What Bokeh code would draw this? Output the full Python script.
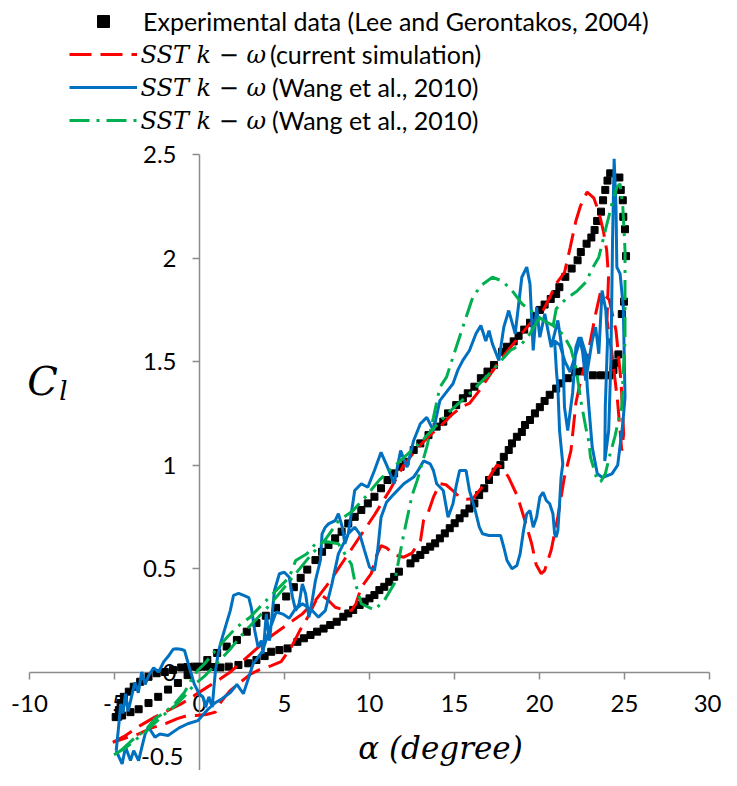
from bokeh.plotting import figure
from bokeh.models import Range1d, FixedTicker, Legend, LegendItem, Label
from bokeh.embed import file_html
from bokeh.resources import INLINE

# ---------------- data ----------------
x_ticks = [-10, -5, 0, 5, 10, 15, 20, 25, 30]
x_tick_labels = ["-10", "-5", "0", "5", "10", "15", "20", "25", "30"]
y_ticks = [-0.5, 0, 0.5, 1, 1.5, 2, 2.5]
y_tick_labels = ["-0.5", "0", "0.5", "1", "1.5", "2", "2.5"]

exp_alpha = [-4.93, -4.55, -4.06, -3.58, -3.0, -2.43, -1.85, -1.27, -0.7, -0.12,
             0.46, 1.04, 1.6, 2.2, 2.78, 3.35, 3.9, 4.5, 5.1, 5.55,
             5.95, 6.34, 6.82, 7.21, 7.59, 7.98, 8.36, 8.75, 9.13, 9.52,
             9.9, 10.29, 10.68, 11.06, 11.45, 11.83, 12.12, 12.6, 12.99, 13.47,
             13.95, 14.34, 14.62, 15.1, 15.49, 15.78, 16.17, 16.55, 16.94, 17.32,
             17.8, 18.09, 18.48, 18.77, 19.1, 19.44, 19.73, 20.02, 20.3, 20.66,
             20.98, 21.17, 21.52, 21.89, 22.24, 22.43, 22.77, 23.05, 23.24, 23.39,
             23.62, 23.74, 23.87, 24.0, 24.16,
             24.7, 24.78, 24.9, 24.93, 25.03, 25.09, 24.97, 24.84, 24.64, 24.5,
             24.35, 24.12, 23.62, 23.14, 22.52, 22.1, 21.66, 21.27, 20.98, 20.6,
             20.3, 20.02, 19.73, 19.44, 19.15, 18.96, 18.67, 18.38, 18.19, 17.9,
             17.7, 17.42, 17.03, 16.75, 16.45, 16.17, 15.88, 15.59, 15.3, 15.01,
             14.72, 14.43, 14.14, 13.86, 13.57, 13.28, 12.99, 12.7, 12.41, 11.73,
             11.45, 11.16, 10.87, 10.58, 10.29, 10.0, 9.71, 9.42, 9.04, 8.75,
             8.46, 8.07, 7.69, 7.3, 6.92, 6.53, 6.14, 5.76, 5.18, 4.7,
             4.22, 3.83, 3.35, 2.87, 2.29, 1.72, 1.23, 0.85, 0.46, 0.08,
             -0.3, -0.7, -1.08, -1.56, -2.04, -2.52, -3.0, -3.49, -3.87, -4.16,
             -4.45, -4.64, -4.74, -4.78]
exp_cl = [-0.218, -0.21, -0.194, -0.18, -0.15, -0.12, -0.085, -0.053, -0.015, 0.024,
          0.058, 0.092, 0.123, 0.155, 0.195, 0.237, 0.272, 0.31, 0.365, 0.41,
          0.455, 0.495, 0.541, 0.581, 0.614, 0.646, 0.678, 0.718, 0.75, 0.783,
          0.815, 0.847, 0.888, 0.928, 0.96, 0.992, 1.016, 1.073, 1.105, 1.145,
          1.186, 1.21, 1.25, 1.29, 1.323, 1.347, 1.379, 1.42, 1.452, 1.484,
          1.548, 1.572, 1.598, 1.625, 1.655, 1.688, 1.72, 1.75, 1.776, 1.803,
          1.827, 1.86, 1.91, 1.95, 1.99, 2.03, 2.07, 2.1, 2.136, 2.18,
          2.225, 2.28, 2.33, 2.375, 2.41,
          2.39, 2.33, 2.28, 2.2, 2.14, 2.01, 1.79, 1.73, 1.535, 1.495,
          1.46, 1.434, 1.434, 1.434, 1.453, 1.449, 1.42, 1.395, 1.37, 1.34,
          1.31, 1.28, 1.25, 1.218, 1.194, 1.16, 1.137, 1.105, 1.073, 1.04,
          1.0, 0.968, 0.928, 0.888, 0.855, 0.815, 0.79, 0.767, 0.743, 0.719,
          0.695, 0.67, 0.646, 0.622, 0.606, 0.59, 0.566, 0.55, 0.525, 0.485,
          0.46, 0.436, 0.412, 0.396, 0.372, 0.356, 0.34, 0.324, 0.3, 0.283,
          0.267, 0.243, 0.227, 0.21, 0.195, 0.179, 0.163, 0.146, 0.114, 0.106,
          0.098, 0.077, 0.058, 0.042, 0.034, 0.026, 0.022, 0.024, 0.026, 0.026,
          0.026, 0.024, 0.022, 0.01, 0.0, -0.006, -0.023, -0.047, -0.071, -0.095,
          -0.12, -0.15, -0.184, -0.216]

red_alpha = [-5.1, -4.35, -3.49, -2.63, -1.85, -1.08, -0.31, 0.46, 1.23, 1.81,
             2.58, 3.35, 4.12, 5.09, 6.05, 6.82, 7.6, 8.5, 9.4, 10.3,
             11.2, 12.02, 12.8, 13.5, 14.2, 14.8, 15.4, 15.9, 16.46, 17.2,
             18.0, 18.7, 19.4, 20.1, 20.6, 21.0, 21.47, 21.8, 22.14, 22.4,
             22.8, 23.2, 23.5, 23.76, 23.95, 24.06, 23.97, 24.26, 24.59, 24.84,
             24.95, 24.8, 24.5, 24.1, 23.6, 23.3, 22.9, 22.4, 22.14, 21.85,
             21.46, 21.08, 20.69, 20.3, 20.1, 19.8, 19.54, 19.15, 18.7, 18.19,
             17.8, 17.5, 17.23, 16.8, 16.46, 16.07, 15.7, 15.3, 14.9, 14.5,
             14.14, 13.76, 13.45, 13.18, 13.0, 12.5, 12.02, 11.5, 11.0, 10.68,
             10.4, 10.1, 9.52, 9.2, 8.94, 8.5, 7.98, 7.59, 7.2, 6.82,
             6.4, 5.9, 5.4, 4.8, 4.2, 3.5, 3.0, 2.4, 1.8, 1.3,
             0.94, 0.4, -0.2, -0.69, -1.3, -2.0, -2.8, -3.6, -4.4, -5.1]
red_cl = [-0.34, -0.307, -0.259, -0.218, -0.186, -0.154, -0.114, -0.073, -0.033, 0.0,
          0.056, 0.112, 0.168, 0.225, 0.281, 0.346, 0.43, 0.54, 0.65, 0.76,
          0.88, 1.0, 1.08, 1.14, 1.19, 1.24, 1.28, 1.3, 1.36, 1.45,
          1.54, 1.61, 1.68, 1.73, 1.81, 1.88, 1.93, 2.05, 2.18, 2.25,
          2.32, 2.29, 2.22, 2.13, 2.04, 1.91, 1.70, 1.54, 1.31, 1.07,
          1.15, 1.4, 1.65, 1.8, 1.84, 1.73, 1.56, 1.4, 1.3, 1.07,
          0.94, 0.75, 0.59, 0.49, 0.475, 0.52, 0.62, 0.73, 0.85, 0.94,
          0.99, 1.0, 0.966, 0.91, 0.877, 0.837, 0.835, 0.845, 0.877, 0.905,
          0.91, 0.845, 0.77, 0.732, 0.636, 0.575, 0.555, 0.565, 0.6, 0.611,
          0.56, 0.475, 0.41, 0.33, 0.297, 0.3, 0.313, 0.346, 0.37, 0.34,
          0.27, 0.2, 0.12, 0.05, 0.03, 0.01, -0.01, -0.05, -0.09, -0.14,
          -0.194, -0.205, -0.21, -0.21, -0.225, -0.25, -0.27, -0.3, -0.32, -0.34]

blue_alpha = [-4.9, -4.74, -4.64, -4.5, -4.35, -4.2, -4.0, -3.8, -3.6, -3.4,
              -3.2, -3.0, -2.7, -2.4, -2.1, -1.8, -1.55, -1.37, -1.1, -0.88,
              -0.6, -0.31, -0.02, 0.2, 0.36, 0.55, 0.75, 0.85, 0.94, 1.1,
              1.23, 1.52, 1.81, 2.0, 2.3, 2.6, 2.9, 3.05, 3.25, 3.45,
              3.64, 3.74, 3.93, 4.12, 4.41, 4.7, 4.99, 5.28, 5.47, 5.66,
              5.86, 6.05, 6.24, 6.44, 6.63, 6.82, 7.11, 7.21, 7.4, 7.59,
              7.98, 8.17, 8.4, 8.55, 8.75, 9.13, 9.52, 9.9, 10.29, 10.68,
              11.06, 11.45, 11.83, 12.21, 12.6, 12.99, 13.37, 13.76, 14.14, 14.5,
              14.91, 15.2, 15.49, 15.88, 16.26, 16.55, 16.84, 17.03, 17.23, 17.61,
              17.9, 18.19, 18.57, 18.96, 19.25, 19.44, 19.63, 19.83, 20.02, 20.31,
              20.69, 21.08, 21.37, 21.47, 21.66, 21.95, 22.14, 22.33, 22.53, 22.72,
              22.9, 23.1, 23.3, 23.49, 23.68, 23.9, 24.0, 23.87, 23.84, 24.07,
              24.2, 24.3, 24.39, 24.5, 24.55, 24.74, 24.93, 25.03,
              24.9, 24.6, 24.26, 23.7, 23.4, 23.1, 22.81, 22.72, 22.43, 22.14,
              21.8, 21.5, 21.2, 20.89, 21.0, 21.08, 21.18, 21.37, 21.27, 21.18,
              21.08, 20.98, 20.89, 20.79, 20.6, 20.4, 20.21, 20.02, 19.83, 19.63,
              19.44, 19.25, 19.06, 18.86, 18.67, 18.38, 18.09, 17.9, 17.71, 17.42,
              17.03, 16.65, 16.46, 16.17, 15.88, 15.68, 15.3, 15.1, 14.91, 14.62,
              14.34, 13.95, 13.76, 13.57, 13.18, 12.9, 12.6, 12.02, 11.45, 11.0,
              10.68, 10.48, 10.29, 10.0, 9.71, 9.42, 9.13, 8.75, 8.17, 7.79,
              7.4, 7.0, 6.6, 6.05, 5.6, 5.28, 4.9, 4.51, 4.1, 3.7,
              3.16, 2.8, 2.58, 2.2, 1.8, 1.3, 0.9, 0.5, -0.1, -0.69,
              -1.2, -1.85, -2.33, -2.62, -3.0, -3.2, -3.39, -3.58, -3.87, -4.06,
              -4.35, -4.55, -4.74, -4.9]
blue_cl = [-0.38, -0.25, -0.154, -0.2, -0.105, -0.19, -0.12, -0.05, -0.1, 0.0,
           -0.06, -0.02, 0.02, 0.0, 0.05, 0.08, 0.11, 0.112, 0.11, 0.104,
           0.023, -0.057, -0.105, -0.12, -0.17, -0.12, -0.17, -0.073, 0.007, 0.09,
           0.136, 0.217, 0.297, 0.37, 0.38, 0.37, 0.36, 0.31, 0.2, 0.12,
           0.152, 0.088, 0.281, 0.152, 0.394, 0.475, 0.482, 0.458, 0.362, 0.297,
           0.33, 0.426, 0.378, 0.265, 0.346, 0.442, 0.539, 0.668, 0.70, 0.716,
           0.732, 0.765, 0.7, 0.62, 0.668, 0.877, 0.91, 0.893, 0.974, 1.062,
           0.99, 0.91, 1.07, 0.99, 1.119, 1.2, 1.231, 1.167, 1.312, 1.35,
           1.393, 1.46, 1.506, 1.554, 1.635, 1.675, 1.6, 1.65, 1.586, 1.506,
           1.667, 1.747, 1.635, 1.908, 1.957, 1.876, 1.554, 1.763, 1.618, 1.731,
           1.57, 1.699, 1.538, 1.28, 1.167, 1.35, 1.57, 1.618, 1.55, 1.409,
           1.5, 1.602, 1.667, 1.538, 1.844, 1.75, 1.6, 1.28, 1.02, 1.167,
           1.5, 2.1, 2.48, 2.25, 1.957, 1.925, 1.763, 1.328,
           1.2, 1.0, 0.958, 0.94, 0.958, 1.087, 1.376, 1.538, 1.618, 1.538,
           1.45, 1.5, 1.58, 1.6, 1.45, 1.376, 1.167, 1.006, 0.942, 0.813,
           0.684, 0.652, 0.668, 0.765, 0.813, 0.829, 0.869, 0.845, 0.748, 0.70,
           0.78, 0.765, 0.684, 0.571, 0.515, 0.499, 0.539, 0.603, 0.66, 0.66,
           0.66, 0.668, 0.70, 0.797, 0.877, 0.974, 0.974, 0.9, 0.813, 0.748,
           0.877, 0.91, 0.974, 1.006, 1.02, 0.98, 0.942, 0.91, 0.861, 0.82,
           0.748, 0.587, 0.49, 0.507, 0.587, 0.668, 0.7, 0.668, 0.571, 0.426,
           0.297, 0.265, 0.3, 0.33, 0.3, 0.26, 0.28, 0.29, 0.2, 0.1,
           0.04, -0.05, -0.105, -0.06, -0.1, -0.13, -0.15, -0.18, -0.235, -0.25,
           -0.27, -0.307, -0.3, -0.315, -0.267, -0.3, -0.363, -0.428, -0.38, -0.428,
           -0.363, -0.444, -0.41, -0.38]

green_alpha = [-5.03, -4.4, -3.8, -3.2, -2.6, -2.0, -1.4, -0.8, -0.3, 0.3,
               1.0, 1.8, 2.6, 3.4, 4.2, 5.0, 5.8, 6.6, 7.4, 8.17,
               9.03, 9.8, 10.6, 11.4, 12.2, 13.0, 13.8, 14.72, 15.88, 17.03,
               18.28, 18.96, 19.44, 19.9, 20.3, 20.79, 20.98, 21.56, 22.2, 22.72,
               23.1, 23.49, 23.87, 24.07, 24.26, 24.55, 24.74, 24.9, 25.03, 25.03,
               25.03, 24.93, 24.84, 24.64, 24.45, 24.16, 23.87, 23.6, 23.4, 23.0,
               22.91, 22.72, 22.43, 22.14, 21.85, 21.43, 20.79, 20.21, 19.6, 18.96,
               18.38, 17.8, 17.23, 16.55, 16.07, 15.49, 15.1, 14.53, 14.14, 13.76,
               13.37, 12.8, 12.5, 12.02, 11.45, 10.87, 10.29, 9.52, 9.13, 8.94,
               8.17, 7.5, 6.82, 6.3, 5.66, 5.28, 4.51, 4.12, 2.97, 2.2,
               1.62, 0.9, 0.3, -0.12, -0.5, -0.88, -1.46, -2.04, -2.62, -3.2,
               -3.97, -4.5, -5.03]
green_cl = [-0.40, -0.37, -0.33, -0.29, -0.245, -0.2, -0.16, -0.11, -0.06, -0.02,
            0.04, 0.11, 0.19, 0.26, 0.33, 0.41, 0.49, 0.57, 0.64, 0.73,
            0.78, 0.85, 0.93, 0.99, 1.05, 1.11, 1.18, 1.26, 1.345, 1.44,
            1.554, 1.586, 1.635, 1.7, 1.70, 1.667, 1.755, 1.804, 1.84, 1.884,
            1.949, 2.005, 2.134, 2.198, 2.263, 2.343, 2.36, 2.25, 2.04, 1.8,
            1.6, 1.46, 1.28, 1.215, 1.143, 1.055, 0.958, 0.92, 0.926, 1.038,
            1.111, 1.183, 1.312, 1.473, 1.562, 1.627, 1.675, 1.70, 1.74, 1.78,
            1.844, 1.89, 1.908, 1.868, 1.81, 1.667, 1.57, 1.425, 1.376, 1.23,
            1.087, 0.925, 0.853, 0.668, 0.426, 0.346, 0.30, 0.33, 0.44, 0.52,
            0.62, 0.63, 0.62, 0.57, 0.539, 0.458, 0.394, 0.362, 0.265, 0.217,
            0.168, 0.1, 0.04, 0.007, -0.041, -0.098, -0.154, -0.194, -0.226, -0.283,
            -0.33, -0.37, -0.404]

exp_label = "Experimental data (Lee and Gerontakos, 2004)"
model_prefix = "SST k \u2212 \u03c9"
red_label = "(current simulation)"
blue_label = "(Wang et al., 2010)"
green_label = "(Wang et al., 2010)"

# ---------------- figure ----------------
W, H = 721, 770
p = figure(width=W, height=H, output_backend="svg", toolbar_location=None,
           x_range=Range1d(-11.706, 30.706), y_range=Range1d(-0.476, 3.2455),
           min_border_left=0, min_border_right=0, min_border_top=0, min_border_bottom=0)
p.grid.visible = False
p.outline_line_color = None
p.background_fill_color = "white"
p.border_fill_color = "white"

AX = "#8c8c8c"
TICK_FONT = "Lato"
for ax, ticks, labels, bounds in ((p.xaxis[0], x_ticks, x_tick_labels, (-10, 30)),
                                   (p.yaxis[0], y_ticks, y_tick_labels, (-0.5, 2.5))):
    ax.fixed_location = 0
    ax.bounds = bounds
    ax.ticker = FixedTicker(ticks=ticks)
    ax.major_label_overrides = {t: l for t, l in zip(ticks, labels)}
    ax.axis_line_color = AX
    ax.axis_line_width = 1.5
    ax.major_tick_line_color = AX
    ax.major_tick_line_width = 1.5
    ax.major_tick_out = 7
    ax.major_tick_in = 0
    ax.minor_tick_line_color = None
    ax.major_label_text_font = TICK_FONT
    ax.major_label_text_font_size = "24px"
    ax.major_label_text_color = "#000000"
    ax.major_label_standoff = 16
    ax.level = "underlay"

# the lowest y tick (-0.5) sits at the window's bottom edge: write its label just above it
p.add_layout(Label(x=183, y=14, x_units="screen", y_units="screen", text=y_tick_labels[0],
                   text_font=TICK_FONT, text_font_size="24px", text_align="right",
                   text_baseline="middle", text_color="#000000"))

# ---------------- series ----------------
r_exp = p.scatter(exp_alpha, exp_cl, marker="square", size=7, color="#000000")
r_red = p.line(red_alpha, red_cl, line_color="#FF0000", line_width=3, line_dash="22 9")
r_blue = p.line(blue_alpha, blue_cl, line_color="#0070C0", line_width=3)
r_green = p.line(green_alpha, green_cl, line_color="#00B050", line_width=3, line_dash="20 7 3 7")

# ---------------- legend (one row per legend, exact placement) ----------------
rows = [(exp_label, r_exp, 734, 6),
        (red_label, r_red, 701, 133),
        (blue_label, r_blue, 668, 135),
        (green_label, r_green, 635, 135)]
for lab, rend, ybot, stand in rows:
    lg = Legend(items=[LegendItem(label=lab, renderers=[rend])], location=(69, ybot))
    lg.glyph_width = 68
    lg.glyph_height = 30
    lg.label_height = 30
    lg.spacing = 0
    lg.padding = 0
    lg.margin = 0
    lg.label_standoff = stand
    lg.label_text_font = TICK_FONT
    lg.label_text_font_size = "25px"
    lg.label_text_color = "#000000"
    lg.background_fill_alpha = 0
    lg.border_line_alpha = 0
    p.add_layout(lg)

for yy in (716, 683, 650):
    p.add_layout(Label(x=140, y=yy, x_units="screen", y_units="screen", text=model_prefix,
                       text_font="DejaVu Serif", text_font_style="italic",
                       text_font_size="24px", text_baseline="middle", text_align="left",
                       text_color="#000000"))

# axis titles
p.add_layout(Label(x=440, y=23, x_units="screen", y_units="screen", text="\u03b1 (degree)",
                   text_font="DejaVu Serif", text_font_style="italic", text_font_size="31px",
                   text_baseline="middle", text_align="center", text_color="#000000"))
p.add_layout(Label(x=42, y=390, x_units="screen", y_units="screen", text="C",
                   text_font="DejaVu Serif", text_font_style="italic", text_font_size="40px",
                   text_baseline="middle", text_align="center", text_color="#000000"))
p.add_layout(Label(x=63, y=380, x_units="screen", y_units="screen", text="l",
                   text_font="DejaVu Serif", text_font_style="italic", text_font_size="26px",
                   text_baseline="middle", text_align="center", text_color="#000000"))

open("out.html", "w").write(file_html(p, INLINE))
